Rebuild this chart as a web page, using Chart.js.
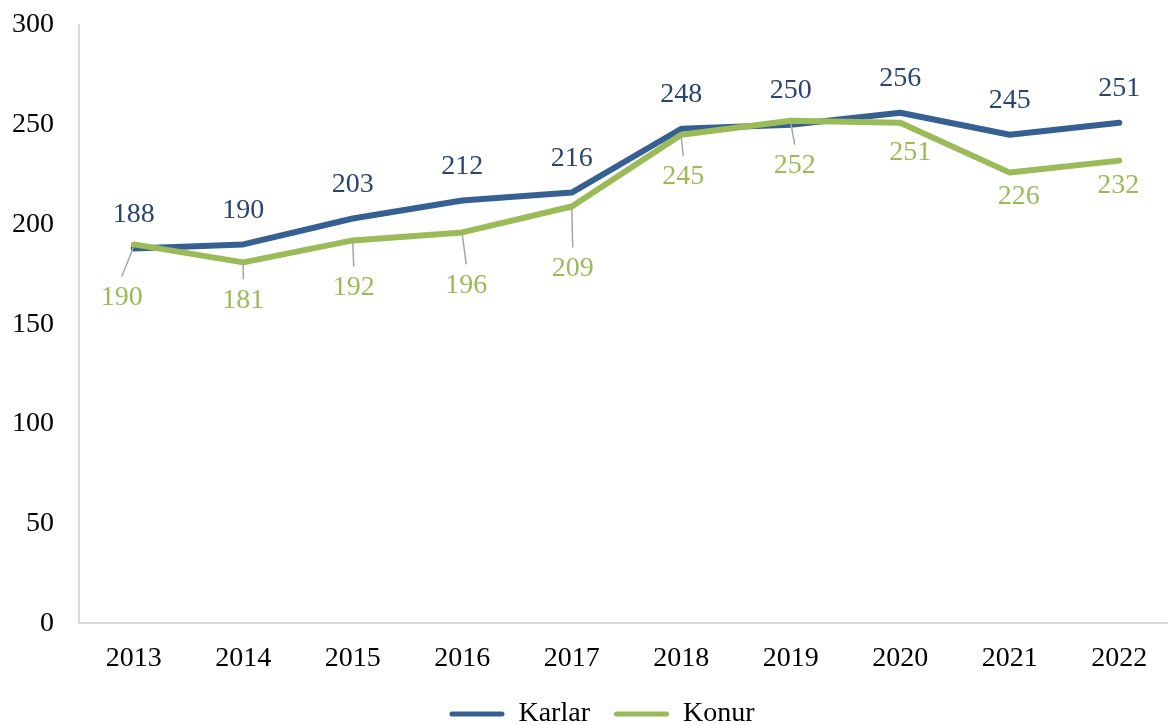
<!DOCTYPE html>
<html>
<head>
<meta charset="utf-8">
<script src="https://cdn.jsdelivr.net/npm/chart.js@4/dist/chart.umd.min.js"></script>
<style>
  html, body { margin: 0; padding: 0; background: #ffffff; overflow: hidden; }
  #wrap { width: 1176px; height: 725px; position: relative; }
</style>
</head>
<body>
<div id="wrap"><canvas id="c"></canvas></div>
<script>
// ---- data ----
const categories = ['2013', '2014', '2015', '2016', '2017', '2018', '2019', '2020', '2021', '2022'];
const karlar = [188, 190, 203, 212, 216, 248, 250, 256, 245, 251];
const konur  = [190, 181, 192, 196, 209, 245, 252, 251, 226, 232];
const seriesNames = ['Karlar', 'Konur'];
const yTicks = [0, 50, 100, 150, 200, 250, 300];

// ---- label placement (pixels, relative to each point) ----
const karlarLabelDy = -34;
const konurLabelDx = [-12, 0, 1, 4, 1, 2, 4, 10, 9, -1];
const konurLabelDy = [53, 38, 47, 53, 62, 42, 45, 30, 24, 25];
const konurLeader  = [true, true, true, true, true, true, true, false, false, false];

const FONT = '"Liberation Serif", "Times New Roman", serif';
const FS = 28;
const blueLine = '#376092';
const blueText = '#2A4570';
const green = '#9BBB59';
const leaderColor = '#A6A6A6';
const axisColor = '#D9D9D9';
const legendShift = 9;

const labelPlugin = {
  id: 'valueLabels',
  afterLayout(chart) {
    if (chart.legend) { chart.legend.left += legendShift; chart.legend.right += legendShift; }
  },
  afterDatasetsDraw(chart) {
    const ctx = chart.ctx;
    ctx.save();
    ctx.font = FS + 'px ' + FONT;
    ctx.textAlign = 'center';
    ctx.textBaseline = 'middle';
    const m1 = chart.getDatasetMeta(1);
    m1.data.forEach((pt, i) => {
      const lx = pt.x + konurLabelDx[i];
      const ly = pt.y + konurLabelDy[i];
      if (konurLeader[i]) {
        ctx.strokeStyle = leaderColor;
        ctx.lineWidth = 1.5;
        ctx.beginPath();
        ctx.moveTo(pt.x, pt.y + 2);
        ctx.lineTo(lx, ly - 21);
        ctx.stroke();
      }
      ctx.fillStyle = green;
      ctx.fillText(String(konur[i]), lx, ly);
    });
    const m0 = chart.getDatasetMeta(0);
    m0.data.forEach((pt, i) => {
      ctx.fillStyle = blueText;
      ctx.fillText(String(karlar[i]), pt.x, pt.y + karlarLabelDy);
    });
    ctx.restore();
  }
};

new Chart(document.getElementById('c'), {
  type: 'line',
  data: {
    labels: categories,
    datasets: [
      {
        label: seriesNames[0],
        data: karlar,
        borderColor: blueLine,
        backgroundColor: blueLine,
        borderWidth: 6,
        pointRadius: 0,
        pointHoverRadius: 0,
        tension: 0,
        fill: false,
        borderJoinStyle: 'round',
        borderCapStyle: 'round',
        order: 1
      },
      {
        label: seriesNames[1],
        data: konur,
        borderColor: green,
        backgroundColor: green,
        borderWidth: 6,
        pointRadius: 0,
        pointHoverRadius: 0,
        tension: 0,
        fill: false,
        borderJoinStyle: 'round',
        borderCapStyle: 'round',
        order: 0
      }
    ]
  },
  options: {
    responsive: true,
    maintainAspectRatio: false,
    animation: false,
    layout: { padding: { top: 25, left: 12, right: 2, bottom: -13 } },
    scales: {
      x: {
        offset: true,
        afterFit(scale) { scale.height = 52.6; scale.paddingLeft = 0; scale.paddingRight = 0; },
        grid: { display: true, drawOnChartArea: false, drawTicks: false },
        border: { display: true, color: axisColor, width: 2 },
        ticks: { color: '#000000', font: { family: FONT, size: FS }, padding: 18, maxRotation: 0 }
      },
      y: {
        min: 0,
        max: 300,
        afterBuildTicks(scale) { scale.ticks = yTicks.map(v => ({ value: v })); },
        afterFit(scale) { scale.width = 67; scale.paddingTop = 0; scale.paddingBottom = 0; },
        grid: { display: true, drawOnChartArea: false, drawTicks: false },
        border: { display: true, color: axisColor, width: 2 },
        ticks: { color: '#000000', font: { family: FONT, size: FS }, padding: 25 }
      }
    },
    plugins: {
      tooltip: { enabled: false },
      legend: {
        position: 'bottom',
        align: 'center',
        labels: {
          color: '#000000',
          font: { family: FONT, size: FS },
          boxWidth: 55,
          boxHeight: 5,
          padding: 24,
          useBorderRadius: true,
          borderRadius: 2.5,
          sort: (a, b) => a.datasetIndex - b.datasetIndex,
          generateLabels(chart) {
            const items = Chart.defaults.plugins.legend.labels.generateLabels(chart);
            items.forEach(it => { it.fillStyle = it.strokeStyle; it.lineWidth = 0; });
            return items;
          }
        }
      }
    }
  },
  plugins: [labelPlugin]
});
</script>
</body>
</html>
